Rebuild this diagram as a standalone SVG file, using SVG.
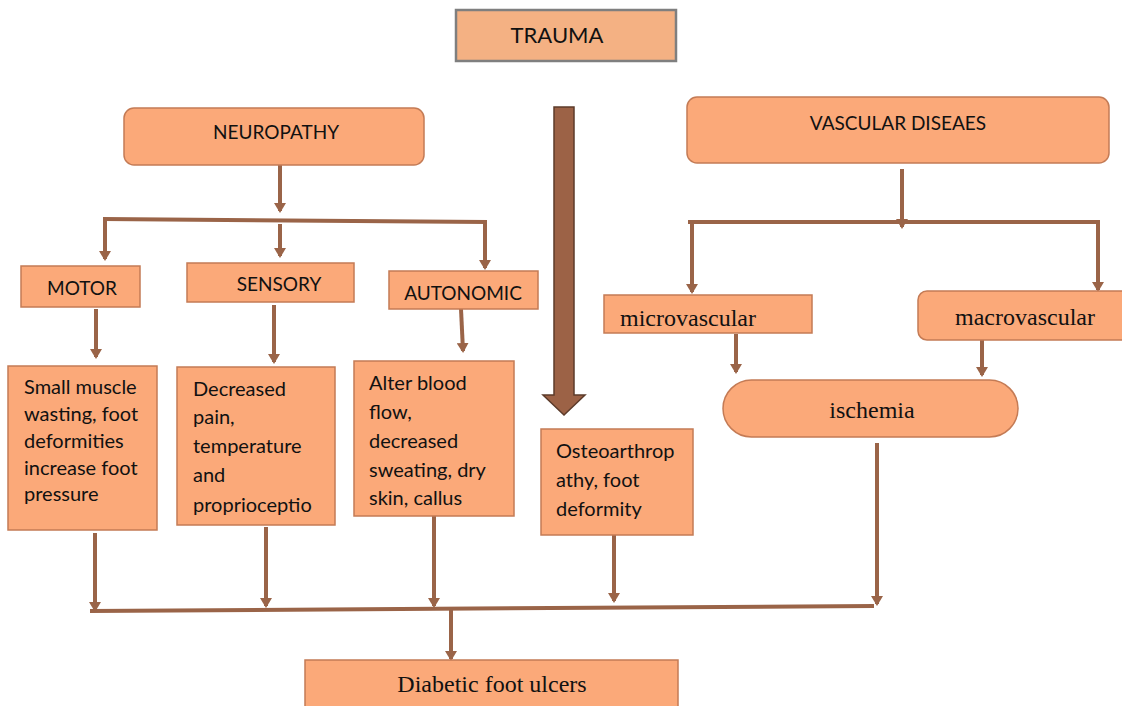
<svg xmlns="http://www.w3.org/2000/svg" width="1122" height="706" viewBox="0 0 1122 706">
  <style>
    .box { fill: #fba979; stroke: #c47b55; stroke-width: 1.5; }
    .trauma { fill: #f4b183; stroke: #7f7f7f; stroke-width: 2.5; }
    .sans { font-family: Lato, "Open Sans", "Liberation Sans", sans-serif; fill: #111; }
    .label { font-size: 19px; }
    .body { font-size: 20px; }
    .serif { font-family: "Liberation Serif", "DejaVu Serif", serif; fill: #111; font-size: 24px; }
    .link { stroke: #9a6448; stroke-width: 4; fill: none; }
    .arrow { stroke: #9a6448; stroke-width: 4; fill: none; marker-end: url(#head); }
  </style>
  <defs>
    <marker id="head" markerUnits="userSpaceOnUse" markerWidth="10" markerHeight="12" viewBox="0 0 10 12" refX="8" refY="6" orient="auto">
      <path d="M0,0 L10,6 L0,12 Z" fill="#9a6448"/>
    </marker>
  </defs>
  <rect width="1122" height="706" fill="#ffffff"/>

  <g id="connectors">
    <!-- neuropathy branch -->
    <line class="arrow" x1="280" y1="165" x2="280" y2="211"/>
    <line class="link" x1="103" y1="219" x2="487" y2="222"/>
    <line class="arrow" x1="105" y1="219" x2="105" y2="259"/>
    <line class="arrow" x1="280" y1="224" x2="280" y2="256"/>
    <line class="arrow" x1="485" y1="220" x2="485" y2="268"/>
    <line class="arrow" x1="96" y1="309" x2="96" y2="357"/>
    <line class="arrow" x1="274" y1="305" x2="274" y2="362"/>
    <line class="arrow" x1="461" y1="309" x2="463" y2="351"/>
    <!-- vascular branch -->
    <line class="arrow" x1="902" y1="169" x2="902" y2="227"/>
    <line class="link" x1="688" y1="222" x2="1100" y2="222"/>
    <line class="arrow" x1="692" y1="224" x2="692" y2="292"/>
    <line class="arrow" x1="1098" y1="221" x2="1098" y2="290"/>
    <line class="arrow" x1="736" y1="334" x2="736" y2="372"/>
    <line class="arrow" x1="982" y1="337" x2="982" y2="375"/>
    <!-- convergence onto ulcers -->
    <line class="arrow" x1="95" y1="533" x2="95" y2="610"/>
    <line class="arrow" x1="266" y1="527" x2="266" y2="606"/>
    <line class="arrow" x1="434" y1="516" x2="434" y2="606"/>
    <line class="arrow" x1="614" y1="535" x2="614" y2="601"/>
    <line class="arrow" x1="877" y1="443" x2="877" y2="604"/>
    <line class="link" x1="90" y1="611" x2="874" y2="606"/>
    <line class="arrow" x1="451" y1="610" x2="451" y2="659"/>
    <!-- trauma block arrow -->
    <path d="M554,107 L574,107 L574,395 L585,395 L564,415 L543,395 L554,395 Z" fill="#9c6246" stroke="#5c3b2a" stroke-width="1.5"/>
  </g>

  <g id="trauma">
    <rect class="trauma" x="456" y="10" width="220" height="51"/>
    <text class="sans" x="557" y="43" font-size="22" text-anchor="middle">TRAUMA</text>
  </g>

  <g id="neuropathy">
    <rect class="box" x="124" y="108" width="300" height="57" rx="10"/>
    <text class="sans label" x="276" y="139" text-anchor="middle">NEUROPATHY</text>
  </g>

  <g id="motor">
    <rect class="box" x="21" y="266" width="119" height="41"/>
    <text class="sans label" x="82" y="295" text-anchor="middle">MOTOR</text>
  </g>
  <g id="sensory">
    <rect class="box" x="187" y="263" width="167" height="39"/>
    <text class="sans label" x="279" y="291" text-anchor="middle">SENSORY</text>
  </g>
  <g id="autonomic">
    <rect class="box" x="389" y="271" width="149" height="38"/>
    <text class="sans label" x="463" y="300" text-anchor="middle">AUTONOMIC</text>
  </g>

  <g id="motor-effects">
    <rect class="box" x="8" y="366" width="149" height="164"/>
    <text class="sans body">
      <tspan x="24" y="394">Small muscle</tspan>
      <tspan x="24" y="421">wasting, foot</tspan>
      <tspan x="24" y="448">deformities</tspan>
      <tspan x="24" y="475">increase foot</tspan>
      <tspan x="24" y="501">pressure</tspan>
    </text>
  </g>
  <g id="sensory-effects">
    <rect class="box" x="177" y="367" width="158" height="158"/>
    <text class="sans body">
      <tspan x="193" y="396">Decreased</tspan>
      <tspan x="193" y="424">pain,</tspan>
      <tspan x="193" y="453">temperature</tspan>
      <tspan x="193" y="482">and</tspan>
      <tspan x="193" y="512">proprioceptio</tspan>
    </text>
  </g>
  <g id="autonomic-effects">
    <rect class="box" x="354" y="361" width="160" height="155"/>
    <text class="sans body">
      <tspan x="369" y="390">Alter blood</tspan>
      <tspan x="369" y="419">flow,</tspan>
      <tspan x="369" y="448">decreased</tspan>
      <tspan x="369" y="477">sweating, dry</tspan>
      <tspan x="369" y="505">skin, callus</tspan>
    </text>
  </g>
  <g id="osteoarthropathy">
    <rect class="box" x="541" y="429" width="152" height="106"/>
    <text class="sans body">
      <tspan x="556" y="458">Osteoarthrop</tspan>
      <tspan x="556" y="487">athy, foot</tspan>
      <tspan x="556" y="516">deformity</tspan>
    </text>
  </g>

  <g id="vascular">
    <rect class="box" x="687" y="97" width="422" height="66" rx="10"/>
    <text class="sans label" x="898" y="130" text-anchor="middle">VASCULAR DISEAES</text>
  </g>
  <g id="microvascular">
    <rect class="box" x="604" y="295" width="208" height="38"/>
    <text class="serif" x="688" y="326" text-anchor="middle">microvascular</text>
  </g>
  <g id="macrovascular">
    <rect class="box" x="918" y="291" width="212" height="49" rx="9"/>
    <text class="serif" x="1025" y="325" text-anchor="middle">macrovascular</text>
  </g>
  <g id="ischemia">
    <rect class="box" x="723" y="380" width="295" height="57" rx="28.5"/>
    <text class="serif" x="872" y="418" text-anchor="middle">ischemia</text>
  </g>

  <g id="ulcers">
    <rect class="box" x="305" y="660" width="373" height="50"/>
    <text class="serif" x="492" y="692" text-anchor="middle">Diabetic foot ulcers</text>
  </g>
</svg>
